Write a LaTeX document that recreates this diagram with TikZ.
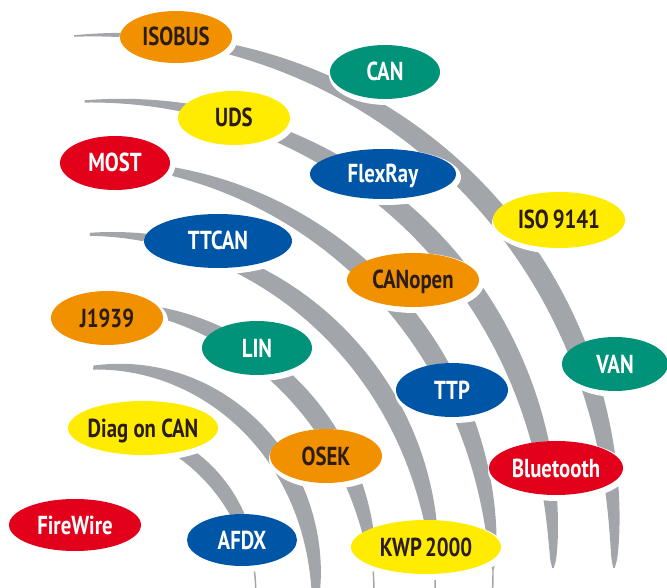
\documentclass[tikz,border=0pt]{standalone}
\usepackage{fontspec}
\newfontfamily\tagfont[FakeStretch=0.8]{PT Sans}
\definecolor{bandgray}{HTML}{A2A5AA}
\definecolor{tagorange}{HTML}{F29100}
\definecolor{tagteal}{HTML}{00937A}
\definecolor{tagyellow}{HTML}{FFEC00}
\definecolor{tagred}{HTML}{E2001A}
\definecolor{tagblue}{HTML}{0056A6}
\definecolor{tagink}{HTML}{2B1D16}

\tikzset{
  declare function={
    % radius of a band at angle \ang (measured from the vertical)
    bandrad(\ang,\rzero,\rone,\rbul)=\rzero+(\rone-\rzero)*\ang/90+\rbul*sin(2*\ang);
    % band thickness: thin at both ends, widest in the middle
    bandwid(\ang,\wmax,\zang)=1.5+\wmax*sin(\ang)*sqrt(max(cos(\ang*90/\zang),0))/0.62;
  },
  band/.style={fill=bandgray},
  halo/.style={fill=white},
  tagtext/.style={font=\tagfont\bfseries\fontsize{26}{26}\selectfont, inner sep=0pt, anchor=base},
}

% tapered quarter-circle band around the common centre (74,568)
% #1 start radius, #2 end radius, #3 bulge, #4 max width, #5 start angle, #6 end angle, #7 taper angle
\newcommand\arcband[7]{%
  \fill[band] plot[domain=#5:#6, samples=90, smooth]
    ({74+(bandrad(\x,#1,#2,#3)+bandwid(\x,#4,#7)/2)*sin(\x)},
     {568-(bandrad(\x,#1,#2,#3)+bandwid(\x,#4,#7)/2)*cos(\x)})
  -- plot[domain=#6:#5, samples=90, smooth]
    ({74+(bandrad(\x,#1,#2,#3)-bandwid(\x,#4,#7)/2)*sin(\x)},
     {568-(bandrad(\x,#1,#2,#3)-bandwid(\x,#4,#7)/2)*cos(\x)})
  -- cycle;}

% coloured oval with a white offset halo and its label
% #1 name, #2 x, #3 y, #4 x radius, #5 y radius, #6 fill, #7 text colour, #8 text
\newcommand\pill[8]{%
  \fill[halo] ({#2+2},{#3+3}) ellipse [x radius=#4+3, y radius=#5+3];
  \fill[#6] (#2,#3) ellipse [x radius=#4, y radius=#5];
  \node[tagtext, text=#7] (#1) at ({#2},{#3+9}) {#8};}

\begin{document}
\begin{tikzpicture}[x=1pt, y=-1pt]
\useasboundingbox (0,0) rectangle (667,588);

% grey bands, outermost first
\arcband{532}{540}{15}{20}{0}{90}{90}
\arcband{466}{479}{12}{20}{1.3}{90}{90}
\arcband{405}{419}{3}{19}{10}{94}{90}
\arcband{333}{361}{3}{19}{2.7}{95}{90}
\arcband{262}{299}{0}{18}{8}{96}{90}
\arcband{198}{241}{4}{16}{5.5}{97}{100}
\arcband{140}{180}{0}{14}{25}{97}{90}

% protocol ovals
\pill{isobus}{176}{37}{56}{26}{tagorange}{tagink}{ISOBUS}
\pill{can}{385}{72}{55}{27}{tagteal}{white}{CAN}
\pill{uds}{234}{118}{56}{27}{tagyellow}{tagink}{UDS}
\pill{most}{115}{163}{55}{27}{tagred}{white}{MOST}
\pill{flexray}{383}{174}{73}{25}{tagblue}{white}{FlexRay}
\pill{iso}{559}{220}{66}{28}{tagyellow}{tagink}{ISO\hspace{0.15em}9141}
\pill{ttcan}{218}{241}{74}{27}{tagblue}{white}{TTCAN}
\pill{canopen}{413}{280}{66}{27}{tagorange}{tagink}{CANopen}
\pill{jnineteen}{107}{318}{56}{27}{tagorange}{tagink}{J1939}
\pill{lin}{257}{348}{55}{27}{tagteal}{white}{LIN}
\pill{van}{615}{364}{53}{27}{tagteal}{white}{VAN}
\pill{ttp}{452}{390}{56}{27}{tagblue}{white}{TTP}
\pill{diag}{143}{428}{75}{27}{tagyellow}{tagink}{Diag on CAN}
\pill{osek}{326}{456}{56}{27}{tagorange}{tagink}{OSEK}
\pill{bluetooth}{556}{468}{67}{27}{tagred}{white}{Bluetooth}
\pill{firewire}{75}{525}{66}{26}{tagred}{white}{FireWire}
\pill{afdx}{242}{540}{55}{26}{tagblue}{white}{AFDX}
\pill{kwp}{426}{547}{75}{27}{tagyellow}{tagink}{KWP\hspace{0.12em}2000}
\end{tikzpicture}
\end{document}
